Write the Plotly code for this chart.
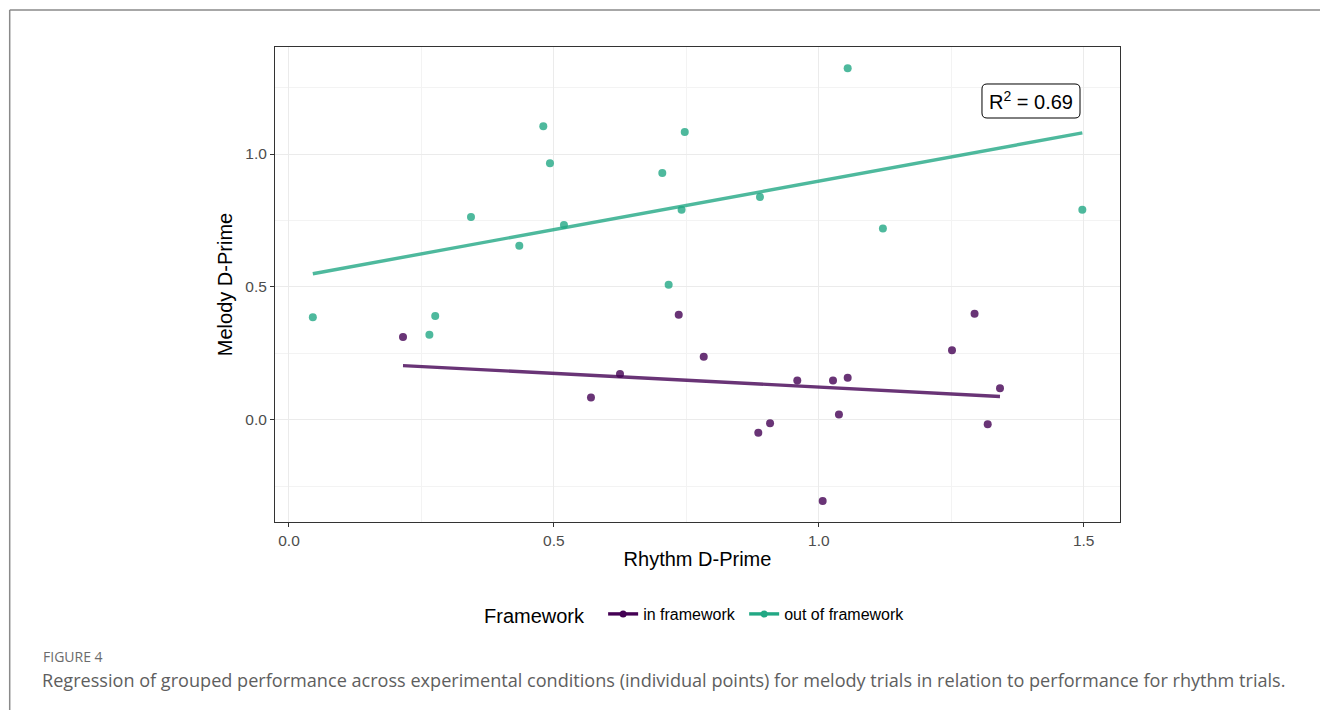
import numpy as np
import plotly.graph_objects as go

# ---- data ----
out_x = [0.045, 0.265, 0.276, 0.3435, 0.4347, 0.480, 0.4926, 0.519, 0.7046, 0.7166,
         0.741, 0.747, 0.889, 1.0545, 1.121, 1.4974]
out_y = [0.386, 0.320, 0.390, 0.763, 0.655, 1.104, 0.965, 0.733, 0.9285, 0.508,
         0.790, 1.083, 0.838, 1.3225, 0.720, 0.790]

in_x = [0.2152, 0.570, 0.6248, 0.7356, 0.7828, 0.8858, 0.908, 0.9594, 1.0073, 1.0268,
        1.038, 1.0545, 1.2514, 1.294, 1.3188, 1.342]
in_y = [0.311, 0.084, 0.172, 0.395, 0.237, -0.049, -0.0135, 0.148, -0.306, 0.148,
        0.020, 0.158, 0.261, 0.399, -0.017, 0.118]

series_names = ["in framework", "out of framework"]
r2_label = "R<sup>2</sup> = 0.69"
x_ticks = [0.0, 0.5, 1.0, 1.5]
x_tick_labels = ["0.0", "0.5", "1.0", "1.5"]
y_ticks = [0.0, 0.5, 1.0]
y_tick_labels = ["0.0", "0.5", "1.0"]

PURPLE = "#440154"
GREEN = "#22A884"
PURPLE_A = "rgba(68,1,84,0.8)"
GREEN_A = "rgba(34,168,132,0.8)"
FONT = "Liberation Sans, Arial, sans-serif"

fig = go.Figure()


def add_group(xs, ys, color_a):
    fig.add_trace(go.Scatter(x=xs, y=ys, mode="markers",
                             marker=dict(size=8, color=color_a, line=dict(width=0)),
                             showlegend=False, hoverinfo="x+y"))
    xa = np.array(xs)
    ya = np.array(ys)
    slope, icpt = np.polyfit(xa, ya, 1)
    lx = np.array([xa.min(), xa.max()])
    fig.add_trace(go.Scatter(x=lx, y=slope * lx + icpt, mode="lines",
                             line=dict(color=color_a, width=3.4),
                             showlegend=False, hoverinfo="skip"))


add_group(in_x, in_y, PURPLE_A)
add_group(out_x, out_y, GREEN_A)

# legend keys (line + point)
for name, col in zip(series_names, [PURPLE, GREEN]):
    fig.add_trace(go.Scatter(x=[None], y=[None], mode="lines+markers", name=name + " ",
                             line=dict(color=col, width=3.4),
                             marker=dict(size=7, color=col)))

axis_common = dict(
    showline=True, linecolor="#333333", linewidth=1, mirror=True,
    ticks="outside", ticklen=4, tickcolor="#333333", tickwidth=1,
    showgrid=True, gridcolor="#EBEBEB", gridwidth=1.1,
    zeroline=False,
    tickfont=dict(family=FONT, size=15.5, color="#4D4D4D"),
    title_font=dict(family=FONT, size=20, color="#000000"),
)

fig.update_xaxes(
    range=[-0.0264, 1.5685], tickvals=x_ticks, ticktext=x_tick_labels,
    title_text="Rhythm D-Prime", title_standoff=4,
    minor=dict(dtick=0.25, tick0=0.0, showgrid=True, gridcolor="#F3F3F3", gridwidth=0.8, ticks=""),
    **axis_common)
fig.update_yaxes(
    range=[-0.385, 1.4027], tickvals=y_ticks, ticktext=y_tick_labels,
    title_text="Melody D-Prime", title_standoff=7,
    minor=dict(dtick=0.25, tick0=0.0, showgrid=True, gridcolor="#F3F3F3", gridwidth=0.8, ticks=""),
    **axis_common)

# rounded label box for R^2
PXX = 1 / 529.8   # data units per pixel, x
PXY = 1 / 265.7   # data units per pixel, y
bx0, bx1 = 1.308, 1.493
by0, by1 = 1.1355, 1.2635
rx, ry = 5 * PXX, 5 * PXY
path = (f"M {bx0 + rx},{by1} L {bx1 - rx},{by1} Q {bx1},{by1} {bx1},{by1 - ry} "
        f"L {bx1},{by0 + ry} Q {bx1},{by0} {bx1 - rx},{by0} "
        f"L {bx0 + rx},{by0} Q {bx0},{by0} {bx0},{by0 + ry} "
        f"L {bx0},{by1 - ry} Q {bx0},{by1} {bx0 + rx},{by1} Z")
fig.add_shape(type="path", xref="x", yref="y", path=path,
              line=dict(color="#000000", width=1), fillcolor="#FFFFFF", layer="above")
fig.add_annotation(x=(bx0 + bx1) / 2, y=(by0 + by1) / 2, xref="x", yref="y", text=r2_label,
                   showarrow=False,
                   font=dict(family=FONT, size=20, color="#000000"))

# outer frame lines (figure box)
fig.add_shape(type="line", xref="paper", yref="paper",
              x0=(9.7 - 275) / 845, x1=(1322 - 275) / 845,
              y0=(522 - 10) / 475, y1=(522 - 10) / 475,
              line=dict(color="#8A8A8A", width=1.5))
fig.add_shape(type="line", xref="paper", yref="paper",
              x0=(9.7 - 275) / 845, x1=(9.7 - 275) / 845,
              y0=(522 - 10) / 475, y1=(522 - 712) / 475,
              line=dict(color="#8A8A8A", width=1.5))

# caption
fig.add_annotation(xref="paper", yref="paper",
                   x=(41 - 275) / 845, y=(522 - 656) / 475,
                   xanchor="left", yanchor="middle", showarrow=False,
                   text="FIGURE 4",
                   font=dict(family="Open Sans, sans-serif", size=14, color="#6B6B6B"))
fig.add_annotation(xref="paper", yref="paper",
                   x=(40 - 275) / 845, y=(522 - 680) / 475,
                   xanchor="left", yanchor="middle", showarrow=False,
                   text="Regression of grouped performance across experimental conditions (individual points) for melody trials in relation to performance for rhythm trials.",
                   font=dict(family="Open Sans, sans-serif", size=18.1, color="#5E5E5E"))

fig.update_layout(
    width=1320, height=710,
    margin=dict(l=275, r=200, t=47, b=188),
    paper_bgcolor="#FFFFFF", plot_bgcolor="#FFFFFF",
    showlegend=True,
    legend=dict(orientation="h", x=0.5, xanchor="center",
                y=(522 - 615) / 475, yanchor="middle",
                title=dict(text="Framework  ", font=dict(family=FONT, size=20, color="#000000")),
                font=dict(family=FONT, size=16, color="#000000"),
                itemwidth=30, tracegroupgap=0),
)

fig.write_html("out.html", config={"displayModeBar": False},
               post_script="document.body.style.margin='0px';document.body.style.overflow='hidden';")
